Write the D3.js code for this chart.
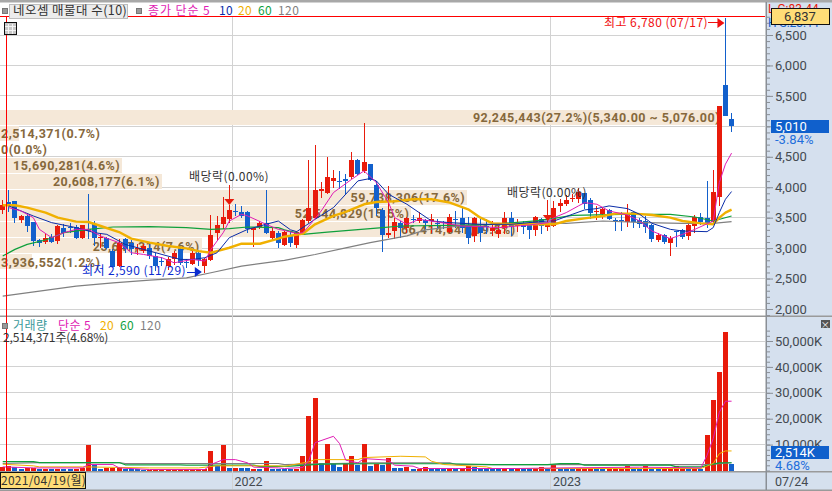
<!DOCTYPE html>
<html><head><meta charset="utf-8">
<script src="https://cdn.jsdelivr.net/npm/d3@7/dist/d3.min.js"></script>
<style>
html,body{margin:0;padding:0;background:#fff;overflow:hidden}
text{font-family:"Noto Sans CJK KR","Noto Sans",sans-serif;font-size:12px;letter-spacing:.45px}
</style></head><body><svg id="c" width="832" height="491"></svg>
<script>
const opens=[3630,3750,3775,3455,3530,3430,3130,3105,3180,3115,3335,3350,3345,3165,3310,3390,3175,3160,2950,2705,3145,3090,3000,2950,3005,2870,2790,2705,2825,2980,2765,2745,2925,2705,2805,3255,3390,3485,3615,3595,3595,3305,3340,3420,3170,3240,3045,3210,3045,3225,3445,3490,3935,3900,4100,4100,4130,4160,4450,4260,4380,4040,3620,3210,3280,3405,3335,3485,3450,3455,3440,3420,3425,3270,3485,3500,3365,3200,3365,3370,3280,3225,3335,3500,3365,3420,3400,3295,3475,3350,3365,3695,3720,3810,3800,3900,3785,3585,3555,3620,3455,3455,3435,3585,3455,3445,3375,3135,3210,3090,3280,3290,3200,3365,3510,3500,3430,3840,5685,5125];
const highs=[3790,3955,3780,3545,3545,3430,3155,3225,3225,3385,3390,3405,3385,3385,3885,3445,3255,3185,2980,3145,3170,3135,3060,3060,3060,2915,2860,2860,2950,3005,2815,2950,2950,2840,3540,3530,3845,3705,3720,3695,3610,3335,3445,3955,3335,3280,3280,3280,3280,3475,4445,4690,4090,4500,4285,4270,4215,4580,4470,5055,4380,4105,3665,4020,3500,3445,3510,3540,3585,3485,3555,3475,3445,3555,3610,3680,3515,3515,3485,3485,3445,3365,3585,3585,3475,3445,3445,3530,3500,3775,3775,3800,3875,3885,3980,3910,3830,3695,3665,3650,3500,3585,3720,3595,3500,3530,3390,3240,3235,3200,3285,3310,3430,3550,3570,4105,4285,5340,6780,5220];
const lows=[3555,3585,3420,3405,3270,3035,3025,3060,3090,3060,3185,3255,3145,3155,3145,3035,3005,2980,2690,2690,2925,2895,2895,2925,2815,2620,2700,2640,2730,2730,2675,2730,2705,2590,2785,3135,3310,3420,3530,3500,3255,3025,3310,3225,3115,3005,3035,3025,3005,3225,3420,3475,3815,3885,3980,3965,3870,4130,4200,4240,4105,3530,2935,3170,3145,3170,3255,3420,3405,3310,3255,3310,3310,3255,3335,3255,3060,3100,3100,3225,3200,3170,3225,3200,3265,3225,3155,3200,3225,3280,3350,3600,3695,3760,3745,3640,3485,3460,3485,3460,3280,3280,3350,3335,3325,3255,3100,3105,3060,2870,3015,3155,3135,3240,3375,3335,3420,3695,5175,4900];
const closes=[3700,3720,3490,3530,3365,3115,3090,3170,3105,3365,3255,3330,3160,3375,3280,3160,3190,3005,2695,3090,2980,2980,3010,3035,2870,2705,2770,2825,2925,2750,2755,2925,2805,2825,3210,3375,3515,3625,3595,3520,3310,3330,3405,3255,3280,3080,3265,3080,3270,3455,3665,3955,3965,4160,4145,4080,4105,4445,4225,4415,4120,3665,3215,3255,3435,3335,3490,3475,3490,3405,3475,3400,3415,3515,3455,3335,3160,3490,3255,3360,3335,3290,3500,3350,3375,3350,3295,3505,3365,3390,3655,3735,3785,3820,3925,3720,3570,3610,3640,3475,3440,3440,3565,3430,3390,3345,3145,3210,3100,3160,3270,3175,3375,3505,3435,3390,3925,5340,5175,5010];
const volumes=[1280,1790,1400,640,1020,1020,770,770,640,770,640,640,770,900,9700,2050,770,900,1150,1540,640,640,640,260,380,380,260,380,380,380,380,380,640,640,7400,1900,9700,1020,1020,1020,1020,770,500,3600,640,640,770,770,770,5500,20900,27800,2800,10100,2800,1400,2560,5500,2300,10100,1800,2560,2300,4900,1020,1020,1540,640,770,1540,770,640,640,900,510,770,1800,1280,770,770,770,640,510,510,510,510,510,510,1280,770,2000,770,770,770,770,770,770,770,770,510,510,510,1800,770,770,1800,770,770,770,770,1800,1020,770,770,770,13700,27400,38100,53500,2514];
// 1 = red bar, 0 = blue bar in the volume pane
const volumeUp=[1,1,0,0,1,1,0,1,0,1,0,0,1,1,1,0,0,1,1,1,0,0,0,0,1,1,1,1,1,1,1,1,1,1,1,0,1,0,1,0,0,1,0,1,0,0,0,0,1,1,1,1,0,1,0,0,1,1,0,1,0,1,0,1,0,0,1,0,1,1,0,0,0,1,0,1,1,0,0,0,0,0,1,0,1,0,0,1,1,0,1,0,0,0,1,1,1,0,0,1,1,1,1,0,0,1,0,0,1,1,1,1,0,1,0,1,1,1,1,0];

const ma5Weeks=[1,3,5,6,8,10,12,14,16,19,21,23,26,28,31,33,34,36,37,39,40,43,45,46,48,49,50,52,54,57,59,61,63,64,66,68,71,75,78,81,86,89,90,92,94,95,97,99,102,104,106,109,111,113,116,117,118,119];
const ma5Values=[3665,3610,3500,3308,3171,3253,3308,3308,3198,3089,2924,2896,2842,2759,2814,2787,2979,3253,3445,3555,3528,3391,3308,3290,3240,3253,3363,3610,3912,4132,4269,4077,3747,3500,3391,3473,3429,3363,3352,3336,3380,3418,3500,3583,3693,3747,3720,3610,3544,3445,3281,3155,3226,3308,3445,4077,4379,4560];
const ma10Weeks=[1,3,5,8,12,15,17,20,23,26,29,31,33,35,37,40,43,45,47,48,51,54,56,58,60,61,63,66,68,70,73,78,83,89,90,93,95,97,99,102,104,106,109,111,115,116,117,118,119];
const ma10Values=[3693,3610,3528,3418,3336,3253,3226,3061,2979,2896,2814,2814,2842,2924,3171,3308,3391,3445,3300,3270,3473,3665,3885,4104,4143,4104,3885,3720,3583,3446,3418,3391,3391,3446,3445,3555,3627,3649,3693,3649,3555,3407,3308,3281,3270,3336,3583,3802,3929];
const ma20Weeks=[0,2,4,7,9,12,14,16,19,21,24,27,30,32,34,35,37,39,42,45,46,49,51,54,56,59,61,64,67,70,73,76,78,80,83,89,90,92,95,98,100,103,106,109,111,114,116,117,118,119];
const ma20Values=[3704,3704,3665,3583,3500,3435,3429,3363,3264,3155,3089,3034,2995,2951,2924,2951,3006,3072,3072,3155,3187,3237,3391,3528,3594,3720,3758,3769,3802,3802,3747,3638,3500,3407,3391,3391,3391,3445,3489,3528,3566,3566,3544,3500,3445,3407,3391,3500,3583,3632];
const ma60Weeks=[0,2,4,7,10,14,18,24,30,34,37,40,45,46,49,53,62,65,73,80,87,90,93,101,109,113,116,119];
const ma60Values=[2869,2979,3061,3133,3253,3308,3347,3352,3336,3308,3319,3347,3336,3300,3226,3264,3336,3363,3374,3391,3446,3489,3539,3555,3555,3511,3445,3528];
const ma120Weeks=[0,6,12,18,24,30,34,39,45,46,51,56,60,66,69,75,88,92,98,105,111,116,119];
const ma120Values=[2210,2293,2375,2430,2474,2512,2595,2704,2787,2800,2895,3005,3090,3200,3300,3370,3420,3405,3445,3420,3405,3405,3435];

const vol5Weeks=[0,5,13,14,18,19,24,33,34,36,38,40,41,45,46,49,50,51,54,55,56,58,59,63,64,67,68,74,84,91,104,114,115,116,117,118,119];
const vol5Values=[1400,1000,1000,2300,2300,1000,380,380,2300,4200,4200,2950,1280,1000,770,1150,4000,10750,13200,10400,4000,2950,4600,4000,2050,1660,770,770,770,1000,1280,1000,5900,12300,22500,26750,26750];
const vol20Weeks=[0,5,6,13,24,32,35,45,46,50,51,58,59,65,69,70,72,74,79,80,91,114,116,117,118,119];
const vol20Values=[2430,1800,1400,1400,1000,1000,1800,1800,1660,3330,4200,4200,5000,5500,5250,3600,2300,2050,1400,770,770,770,2700,6500,7550,7550];
const vol60Weeks=[0,5,6,19,20,29,30,41,42,47,52,60,73,80,89,91,94,95,109,110,114,117,119];
const vol60Values=[3450,3450,3070,3070,2200,2200,2050,2050,1500,1660,2430,2600,2600,2300,2300,2690,2690,2050,2050,1400,1400,2950,3000];
const vol120Weeks=[0,6,19,20,45,46,60,73,74,110,115,119];
const vol120Values=[2700,3070,3070,2700,2700,2300,2950,2950,2300,2300,2300,3000];

const bandEdges=[5270,5007,4744,4481,4218,3955,3692,3429,3166,2903,2640];
const bandVolumes=[92245443,2514371,0,15690281,20608177,59738306,52544829,66414641,25647314,3936552];
const bandShares=[27.2,0.7,0.0,4.6,6.1,17.6,15.5,19.5,7.6,1.2];
const priceTicks=[2000,2500,3000,3500,4000,4500,5000,5500,6000,6500];
const volumeTicks=[10000,20000,30000,40000,50000];
const yearLabels=[["2022",38],["2023",90]];

const col={red:"#e81b0b",blue:"#1260cc",m5:"#e01cb4",m10:"#0a2ca8",m20:"#f0b000",m60:"#0fa03c",m120:"#808080",
 panel:"#d5e0ee",grid:"#d2d2d2",band:"#f5e8d8",bandText:"#86683c",tag:"#ffdd77",axis:"#8a8f96",txt:"#444a50"};

const svg=d3.select("#c");
const weeks=d3.utcMonday.range(new Date(Date.UTC(2021,3,12)),new Date(Date.UTC(2023,6,25)));
const x=d3.scaleBand().domain(d3.range(weeks.length)).range([-0.36,734.64]).paddingInner(0.17).paddingOuter(0.085);
const cx=i=>x(i)+x.bandwidth()/2;
const y=d3.scaleLinear().domain([2000,6500]).range([309,35]);
const v=d3.scaleLinear().domain([0,50000]).range([470.5,341]);
const R=766;

svg.append("rect").attr("width",832).attr("height",491).attr("fill","#fff");
// right and bottom panels
svg.append("rect").attr("x",R).attr("y",2).attr("width",66).attr("height",489).attr("fill",col.panel);
svg.append("rect").attr("x",0).attr("y",472).attr("width",832).attr("height",19).attr("fill",col.panel);
// frame
svg.append("rect").attr("x",0).attr("y",0).attr("width",832).attr("height",2.5).attr("fill","#a8a8a8");
svg.append("rect").attr("x",0).attr("y",489.5).attr("width",832).attr("height",1.5).attr("fill","#9a9a9a");
svg.append("rect").attr("x",0).attr("y",315.5).attr("width",832).attr("height",1.5).attr("fill","#9a9a9a");
svg.append("rect").attr("x",0).attr("y",471).attr("width",832).attr("height",1.5).attr("fill","#9a9a9a");
svg.append("rect").attr("x",R-0.5).attr("y",2).attr("width",1.5).attr("height",488).attr("fill",col.axis);

const crisp=g=>g.attr("shape-rendering","crispEdges");
// grid
const grid=svg.append("g").call(crisp);
grid.selectAll(".p").data(priceTicks).join("line").attr("x1",0).attr("x2",R-1).attr("y1",d=>y(d)).attr("y2",d=>y(d)).attr("stroke",col.grid);
grid.selectAll(".v").data(volumeTicks).join("line").attr("x1",0).attr("x2",R-1).attr("y1",d=>v(d)).attr("y2",d=>v(d)).attr("stroke",col.grid);
grid.selectAll(".yr").data(yearLabels).join("line").attr("x1",d=>x(d[1])-0.5).attr("x2",d=>x(d[1])-0.5).attr("y1",16).attr("y2",489)
  .attr("stroke",(d)=>col.grid);

// price-volume bands
const bandW=d3.scaleLinear().domain([0,27.2]).range([0,722]);
const bands=svg.append("g");
bands.selectAll("rect").data(bandShares).join("rect").attr("x",0).attr("width",d=>bandW(d))
 .attr("y",(d,i)=>y(bandEdges[i])).attr("height",(d,i)=>y(bandEdges[i+1])-y(bandEdges[i])-1).attr("fill",col.band).call(crisp);
const bandFmt=(d,i)=>d3.format(",")(bandVolumes[i])+"("+d3.format(".1f")(d)+"%)"+(i===0?"(5,340.00 ~ 5,076.00)":"");
bands.selectAll("text").data(bandShares).join("text")
 .text(bandFmt).attr("fill",col.bandText).attr("font-weight",700)
 .style("font-family","Roboto").style("font-size","12.5px").style("letter-spacing","0.47px")
 .attr("y",(d,i)=>(y(bandEdges[i])+y(bandEdges[i+1]))/2+4.5)
 .attr("x",function(d){const w=this.getComputedTextLength();return Math.max(1,bandW(d)-2-w);});

// candles
const idx=d3.range(weeks.length);
const isUp=i=>closes[i]>=opens[i];
const cg=svg.append("g").call(crisp);
cg.selectAll("line").data(idx).join("line").attr("x1",cx).attr("x2",cx).attr("y1",i=>y(highs[i])).attr("y2",i=>y(lows[i]))
 .attr("stroke",i=>isUp(i)?col.red:col.blue).attr("stroke-width",1);
cg.selectAll("rect").data(idx).join("rect").attr("x",i=>x(i)).attr("width",x.bandwidth())
 .attr("y",i=>y(Math.max(opens[i],closes[i]))).attr("height",i=>Math.max(1,Math.abs(y(opens[i])-y(closes[i]))))
 .attr("fill",i=>isUp(i)?col.red:col.blue);

// moving averages
const drawLine=(ws,vs,scale,color,w)=>{
 const l=d3.line().x(i=>cx(ws[i])).y(i=>scale(vs[i]));
 svg.append("path").attr("d",l(d3.range(ws.length))).attr("fill","none").attr("stroke",color).attr("stroke-width",w).attr("stroke-linejoin","round");
};
drawLine(ma120Weeks,ma120Values,y,col.m120,1.2);
drawLine(ma60Weeks,ma60Values,y,col.m60,1.2);
drawLine(ma20Weeks,ma20Values,y,col.m20,2.4);
drawLine(ma10Weeks,ma10Values,y,col.m10,1);
drawLine(ma5Weeks,ma5Values,y,col.m5,1);

// volume
const vg=svg.append("g").call(crisp);
vg.selectAll("rect").data(idx).join("rect").attr("x",i=>x(i)).attr("width",x.bandwidth())
 .attr("y",i=>v(volumes[i])).attr("height",i=>v(0)-v(volumes[i])).attr("fill",i=>volumeUp[i]?col.red:col.blue);
drawLine(vol120Weeks,vol120Values,v,col.m120,1.2);
drawLine(vol60Weeks,vol60Values,v,col.m60,1.2);
drawLine(vol20Weeks,vol20Values,v,col.m20,1);
drawLine(vol5Weeks,vol5Values,v,col.m5,1);

// crosshair
svg.append("line").attr("x1",0).attr("x2",R-1).attr("y1",16.5).attr("y2",16.5).attr("stroke","#f00").call(crisp);
svg.append("line").attr("x1",6.5).attr("x2",6.5).attr("y1",16).attr("y2",471).attr("stroke","#f00").call(crisp);

// axes
const styleAxis=g=>g.call(s=>s.select(".domain").remove()).call(s=>s.selectAll("line").attr("stroke",col.axis))
 .call(s=>s.selectAll("text").attr("fill",col.txt).style("font-size","13px").style("font-family","Roboto").style("letter-spacing","0"));
const minor=d3.range(1900,6900,100);
const ax=svg.append("g").attr("transform",`translate(${R+1},0)`);
ax.append("g").call(d3.axisRight(y).tickValues(minor).tickSize(3).tickFormat("")).call(styleAxis);
ax.append("g").call(d3.axisRight(y).tickValues(priceTicks).tickSize(6).tickPadding(2).tickFormat(d3.format(","))).call(styleAxis);
const vminor=d3.range(0,56000,2000);
const avx=svg.append("g").attr("transform",`translate(${R+1},0)`);
avx.append("g").call(d3.axisRight(v).tickValues(vminor).tickSize(3).tickFormat("")).call(styleAxis);
avx.append("g").call(d3.axisRight(v).tickValues(volumeTicks).tickSize(6).tickPadding(2).tickFormat(d=>d3.format(",")(d)+"K")).call(styleAxis);

const T=(s,px,py,fill,opt={})=>{const t=svg.append("text").text(s).attr("x",px).attr("y",py).attr("fill",fill);
 if(opt.size)t.style("font-size",opt.size+"px");if(opt.anchor)t.attr("text-anchor",opt.anchor);if(opt.num)t.style("font-family","Roboto").style("letter-spacing","0");return t;};

// header values partly covered by the current-price tag, as in the source
T("L G:83.44",768,13,"#e81b0b",{num:1,size:12});
T("H S:23.11",768,27,"#1260cc",{num:1,size:12});
svg.append("rect").attr("x",771.5).attr("y",8.5).attr("width",58).attr("height",16).attr("fill",col.tag).attr("stroke","#111").call(crisp);
T("6,837",800,21,"#333",{num:1,size:13,anchor:"middle"});
svg.append("rect").attr("x",771).attr("y",120).attr("width",58).attr("height",13).attr("fill","#1060cc").call(crisp);
T("5,010",775,131,"#fff",{num:1,size:13});
T("-3.84%",775,144,"#1f6fdc",{num:1,size:13});
svg.append("rect").attr("x",771).attr("y",446).attr("width",58).attr("height",13).attr("fill","#1060cc").call(crisp);
T("2,514K",775,457,"#fff",{num:1,size:13});
T("4.68%",775,470,"#1f6fdc",{num:1,size:13});
// pane close box
svg.append("rect").attr("x",821).attr("y",320).attr("width",9).attr("height",8).attr("fill","#555").call(crisp);
T("×",825.5,328,"#fff",{size:9,anchor:"middle"});

// axis labels
yearLabels.forEach(d=>T(d[0],x(d[1])+1.5,486,col.txt,{num:1,size:12.5}));
T("07/24",775,486,col.txt,{num:1,size:12.5});
svg.append("rect").attr("x",0).attr("y",472.5).attr("width",85).attr("height",16).attr("fill",col.tag).attr("stroke","#111").call(crisp);
T("2021/04/19(월)",1,485,"#333",{size:12}).style("letter-spacing",".25px");

// legend top
const sq=(px,py)=>svg.append("rect").attr("x",px).attr("y",py).attr("width",5).attr("height",5).attr("fill","#999").attr("stroke","#777").call(crisp);
sq(2.5,8.5);sq(136.5,8.5);
svg.append("rect").attr("x",9.5).attr("y",4.5).attr("width",118).attr("height",13.5).attr("fill","#ececec").attr("stroke","#bdbdbd").call(crisp);
T("네오셈 매물대 수(10)",13,15,"#333").style("font-size","12.5px");
T("종가 단순 5",148,15,col.m5).style("letter-spacing",".9px");
T("10",219,15,col.m10);T("20",238,15,col.m20);T("60",258,15,col.m60);T("120",278,15,col.m120);
// table icon
const ic=svg.append("g").call(crisp);
ic.append("rect").attr("x",4.5).attr("y",22.5).attr("width",12).attr("height",12).attr("fill","#c8c8c8").attr("stroke","#111");
[8.5,12.5].forEach(p=>ic.append("line").attr("x1",p).attr("x2",p).attr("y1",24).attr("y2",34).attr("stroke","#f4f4f4"));
[26.5,30.5].forEach(p=>ic.append("line").attr("x1",5).attr("x2",16).attr("y1",p).attr("y2",p).attr("stroke","#f4f4f4"));
// legend volume
sq(2.5,323.5);
T("거래량",13,330,"#3a9a9a");T("단순 5",58,330,col.m5);T("20",100,330,col.m20);T("60",120,330,col.m60);T("120",140,330,col.m120);
T("2,514,371주(4.68%)",3,342,"#333").style("letter-spacing","-.1px");

// annotations
const arrow=(x1,x2,yy,c)=>{svg.append("line").attr("x1",x1).attr("x2",x2-6).attr("y1",yy).attr("y2",yy).attr("stroke",c).call(crisp);
 svg.append("path").attr("d",d3.line()([[x2-7,yy-5],[x2,yy],[x2-7,yy+5]])).attr("fill",c);};
T("최고 6,780 (07/17)",604,27,"#f01010");
arrow(708,cx(118)-1,y(6780)+5,"#f01010");
T("최저 2,590 (11/29)",82,275,"#0a2cd0");
arrow(187,cx(33)-3,y(2590)-1,"#0a2cd0");
const div=(i,s,tx,ty,y0,y1)=>{T(s,tx,ty,"#333");
 svg.append("line").attr("x1",cx(i)).attr("x2",cx(i)).attr("y1",y0).attr("y2",y1).attr("stroke","#e81b0b").call(crisp);
 svg.append("path").attr("d",d3.line()([[cx(i)-5,y1],[cx(i)+5,y1],[cx(i),y1+6]])).attr("fill","#e81b0b");};
div(37,"배당락(0.00%)",189,181,185,199);
div(89,"배당락(0.00%)",507,197,200,215);
</script></body></html>
